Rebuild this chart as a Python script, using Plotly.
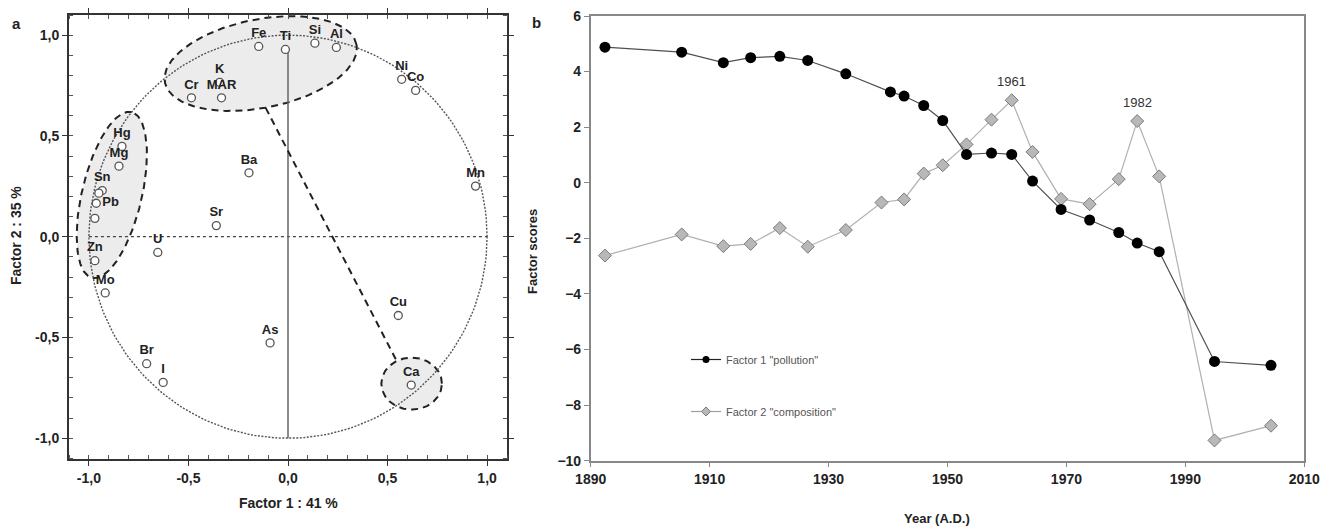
import numpy as np
import plotly.graph_objects as go

W, H = 1321, 526

# ---------------- Panel a : factor loadings ----------------
elements = ["Cr", "K", "MAR", "Hg", "Mg", "Sn", "", "Pb", "", "Sr", "Ba", "U", "Zn", "Mo",
            "Br", "I", "Fe", "Ti", "Si", "Al", "Ni", "Co", "Mn", "Cu", "As", "Ca"]
factor1_load = [-0.485, -0.343, -0.334, -0.834, -0.849, -0.933, -0.950, -0.963, -0.970, -0.360,
                -0.196, -0.654, -0.970, -0.918, -0.710, -0.627, -0.147, -0.013, 0.135, 0.243,
                0.571, 0.641, 0.942, 0.554, -0.090, 0.619]
factor2_load = [0.689, 0.766, 0.689, 0.448, 0.350, 0.229, 0.216, 0.166, 0.091, 0.055,
                0.317, -0.078, -0.119, -0.279, -0.630, -0.723, 0.944, 0.929, 0.960, 0.939,
                0.781, 0.726, 0.251, -0.391, -0.527, -0.736]
label_pos = ["top center"] * len(elements)
label_pos[7] = "middle right"

# grouping ellipses: centre x, centre y, semi-axis a, semi-axis b, angle (deg)
ell_cx = [-0.137, -0.885, 0.621]
ell_cy = [0.859, 0.207, -0.729]
ell_a = [0.49, 0.423, 0.152]
ell_b = [0.22, 0.150, 0.129]
ell_ang = [11.0, 76.4, 0.0]
link_x = [-0.112, 0.544]
link_y = [0.639, -0.613]

# ---------------- Panel b : factor scores ----------------
years_f1 = [1892.4, 1905.3, 1912.3, 1916.9, 1921.8, 1926.5, 1932.9, 1940.4, 1942.7, 1946.0,
            1949.2, 1953.2, 1957.4, 1960.8, 1964.3, 1969.1, 1973.9, 1978.8, 1981.9, 1985.6,
            1994.9, 2004.4]
scores_f1 = [4.88, 4.70, 4.32, 4.50, 4.55, 4.40, 3.92, 3.27, 3.12, 2.78,
             2.24, 1.02, 1.07, 1.02, 0.06, -0.96, -1.34, -1.79, -2.17, -2.48,
             -6.43, -6.57]
years_f2 = [1892.4, 1905.3, 1912.3, 1916.9, 1921.8, 1926.5, 1932.9, 1938.9, 1942.7, 1946.0,
            1949.2, 1953.2, 1957.4, 1960.8, 1964.3, 1969.1, 1973.9, 1978.8, 1981.9, 1985.6,
            1994.9, 2004.4]
scores_f2 = [-2.62, -1.86, -2.28, -2.20, -1.63, -2.30, -1.70, -0.71, -0.60, 0.33,
             0.63, 1.38, 2.27, 2.97, 1.11, -0.58, -0.77, 0.13, 2.22, 0.23,
             -9.27, -8.74]
peak_labels = ["1961", "1982"]
peak_index = [13, 18]

FONT = "Liberation Sans, Arial, sans-serif"

fig = go.Figure()

# ellipses
t = np.linspace(0, 2 * np.pi, 200)
for cx, cy, a, b, ang in zip(ell_cx, ell_cy, ell_a, ell_b, ell_ang):
    th = np.radians(ang)
    ex = cx + a * np.cos(t) * np.cos(th) - b * np.sin(t) * np.sin(th)
    ey = cy + a * np.cos(t) * np.sin(th) + b * np.sin(t) * np.cos(th)
    fig.add_trace(go.Scatter(x=ex, y=ey, mode="lines", fill="toself",
                             fillcolor="rgba(200,200,200,0.35)",
                             line=dict(color="#222", width=2, dash="7px,5px"),
                             hoverinfo="skip", showlegend=False, xaxis="x", yaxis="y"))

# unit circle
fig.add_trace(go.Scatter(x=np.cos(t), y=np.sin(t), mode="lines",
                         line=dict(color="#555", width=1.4, dash="2px,1.5px"),
                         hoverinfo="skip", showlegend=False, xaxis="x", yaxis="y"))
# reference axes inside the circle
fig.add_trace(go.Scatter(x=[-1, 1], y=[0, 0], mode="lines",
                         line=dict(color="#444", width=1.3, dash="dot"),
                         hoverinfo="skip", showlegend=False, xaxis="x", yaxis="y"))
fig.add_trace(go.Scatter(x=[0, 0], y=[-1, 0.93], mode="lines",
                         line=dict(color="#666", width=1.5),
                         hoverinfo="skip", showlegend=False, xaxis="x", yaxis="y"))
# link line
fig.add_trace(go.Scatter(x=link_x, y=link_y, mode="lines",
                         line=dict(color="#222", width=2, dash="7px,5px"),
                         hoverinfo="skip", showlegend=False, xaxis="x", yaxis="y"))
# loadings
fig.add_trace(go.Scatter(x=factor1_load, y=factor2_load, mode="markers+text",
                         text=elements, textposition=label_pos,
                         textfont=dict(family=FONT, size=13, color="#222", weight="bold"),
                         marker=dict(symbol="circle", size=8, color="white",
                                     line=dict(color="#555", width=1.3)),
                         showlegend=False, xaxis="x", yaxis="y"))

# factor scores
fig.add_trace(go.Scatter(x=years_f2, y=scores_f2, mode="lines+markers",
                         line=dict(color="#b0b0b0", width=1.2),
                         marker=dict(symbol="diamond", size=10, color="#b8b8b8",
                                     line=dict(color="#7a7a7a", width=1)),
                         showlegend=False, xaxis="x2", yaxis="y2"))
fig.add_trace(go.Scatter(x=years_f1, y=scores_f1, mode="lines+markers",
                         line=dict(color="#505050", width=1.2),
                         marker=dict(symbol="circle", size=11, color="black"),
                         showlegend=False, xaxis="x2", yaxis="y2"))
# legend entries
fig.add_trace(go.Scatter(x=[None], y=[None], mode="lines+markers", name='Factor 1 "pollution"',
                         legendgroup="f1",
                         line=dict(color="#222", width=1.2),
                         marker=dict(symbol="circle", size=7, color="black"),
                         xaxis="x2", yaxis="y2"))
fig.add_trace(go.Scatter(x=[None], y=[None], mode="lines+markers", name='Factor 2 "composition"',
                         legendgroup="f2",
                         line=dict(color="#a0a0a0", width=1.2),
                         marker=dict(symbol="diamond", size=7, color="#b8b8b8",
                                     line=dict(color="#7a7a7a", width=1)),
                         xaxis="x2", yaxis="y2"))

annotations = []
for lab, i in zip(peak_labels, peak_index):
    annotations.append(dict(x=years_f2[i], y=scores_f2[i], xref="x2", yref="y2",
                            text=lab, showarrow=False, yshift=19,
                            xanchor="center", yanchor="middle",
                            font=dict(family=FONT, size=13, color="#333")))

def px(x):
    return x / W

def py(y):
    return 1 - y / H

bold = dict(family=FONT, size=14, color="#222", weight="bold")
bold13 = dict(family=FONT, size=13, color="#222", weight="bold")
big = dict(family=FONT, size=15, color="#222", weight="bold")
C = dict(showarrow=False, xanchor="center", yanchor="middle")
annotations += [
    dict(x=px(16), y=py(24), xref="paper", yref="paper", text="a", font=big, **C),
    dict(x=px(536), y=py(22), xref="paper", yref="paper", text="b", font=big, **C),
    dict(x=0, y=py(503), xref="x", yref="paper", text="Factor 1 : 41 %", font=bold, **C),
    dict(x=px(16), y=py(236), xref="paper", yref="paper", text="Factor 2 : 35 %",
         textangle=-90, font=bold, **C),
    dict(x=px(532), y=py(252), xref="paper", yref="paper", text="Factor scores",
         textangle=-90, font=bold13, **C),
    dict(x=px(937), y=py(518), xref="paper", yref="paper", text="Year (A.D.)",
         font=bold13, **C),
]

tickfont = dict(family=FONT, size=14, color="#222", weight="bold")
load_ticks = [-1, -0.5, 0, 0.5, 1]
load_text = ["-1,0", "-0,5", "0,0", "0,5", "1,0"]

fig.update_layout(
    width=W, height=H, margin=dict(l=0, r=0, t=0, b=0, autoexpand=False),
    paper_bgcolor="white", plot_bgcolor="white",
    showlegend=True,
    legend=dict(x=px(686), y=py(345), xanchor="left", yanchor="top",
                bgcolor="rgba(0,0,0,0)", borderwidth=0, tracegroupgap=33,
                itemwidth=30,
                font=dict(family=FONT, size=11, color="#555")),
    xaxis=dict(domain=[px(69), px(507)], range=[-1.1, 1.1], anchor="y", automargin=False,
               tickvals=load_ticks, ticktext=load_text, tickfont=tickfont,
               ticks="outside", ticklen=5, tickcolor="#333", tickwidth=1.3,
               showline=True, linecolor="#333", linewidth=2, mirror="allticks",
               showgrid=False, zeroline=False,
               minor=dict(dtick=0.1, tick0=0, ticks="inside", ticklen=4, tickcolor="#555")),
    yaxis=dict(domain=[py(459), py(15)], range=[-1.103, 1.1], anchor="x", automargin=False,
               tickvals=load_ticks, ticktext=load_text, tickfont=tickfont,
               ticks="outside", ticklen=5, tickcolor="#333", tickwidth=1.3,
               showline=True, linecolor="#333", linewidth=2, mirror="allticks",
               showgrid=False, zeroline=False,
               minor=dict(dtick=0.1, tick0=0, ticks="inside", ticklen=4, tickcolor="#555")),
    xaxis2=dict(domain=[px(590.7), px(1304.3)], range=[1890, 2010], anchor="y2", automargin=False,
                dtick=20, tick0=1890, tickfont=tickfont,
                ticks="outside", ticklen=5, tickcolor="#888",
                showline=True, linecolor="#888", linewidth=1.5, mirror=True,
                showgrid=False, zeroline=False),
    yaxis2=dict(domain=[py(460.7), py(16)], range=[-10, 6], anchor="x2", automargin=False,
                dtick=2, tickfont=tickfont,
                ticks="outside", ticklen=5, tickcolor="#888",
                showline=True, linecolor="#888", linewidth=1.5, mirror=True,
                showgrid=False, zeroline=False),
    annotations=annotations,
)

fig.write_html("out.html")
